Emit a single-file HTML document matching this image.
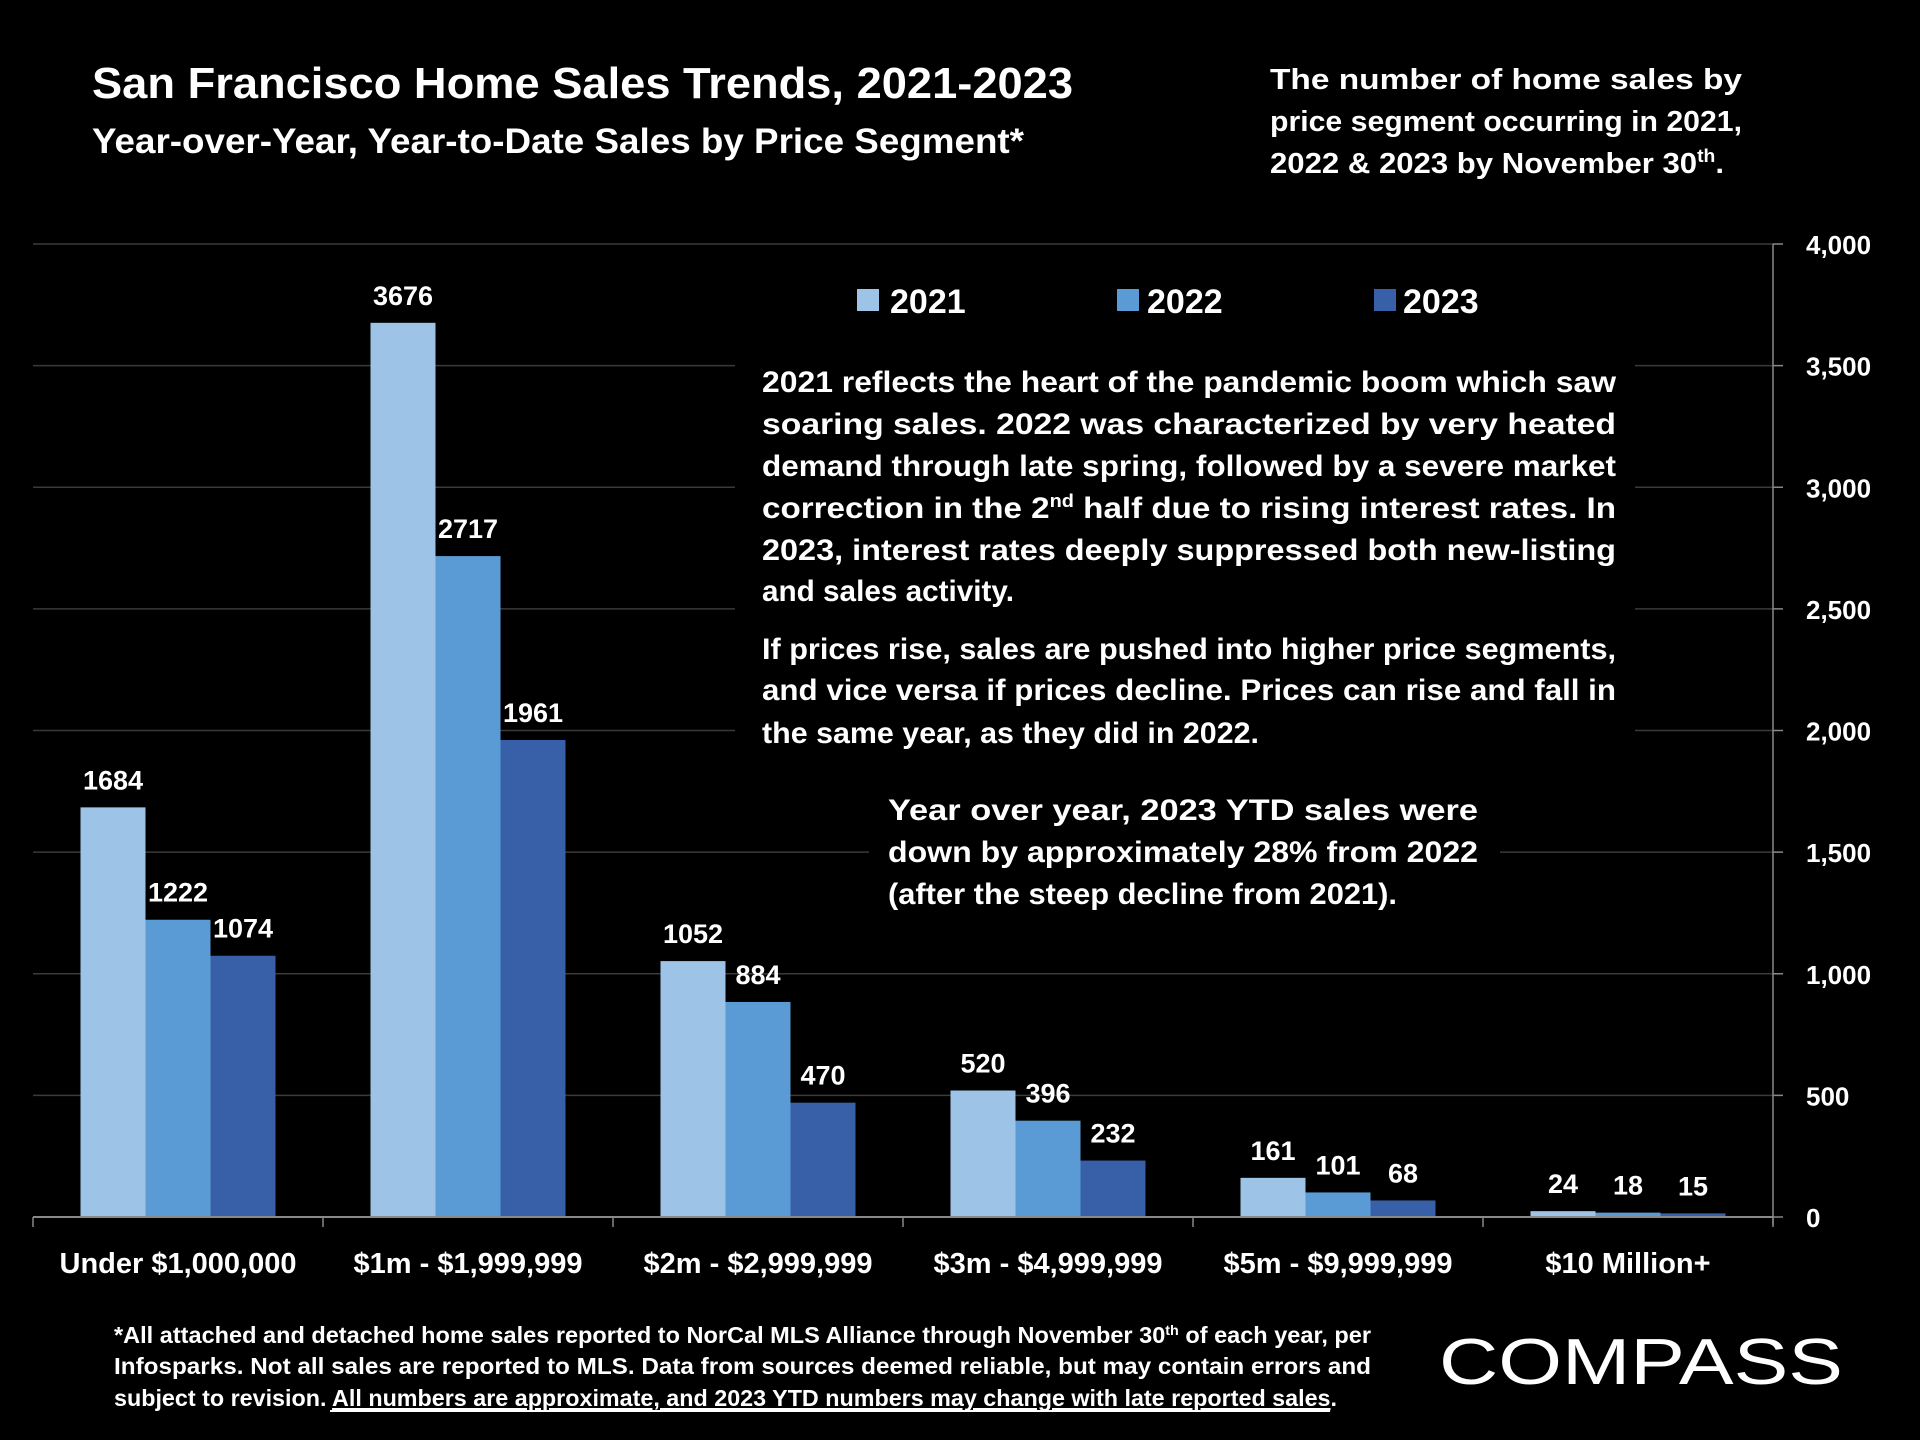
<!DOCTYPE html>
<html><head><meta charset="utf-8"><style>
html,body{margin:0;padding:0;background:#000;}
svg{display:block;}
text{font-family:"Liberation Sans",sans-serif;fill:#fff;font-weight:bold;}
</style></head><body>
<svg id="chart" width="1920" height="1440" viewBox="0 0 1920 1440" xmlns="http://www.w3.org/2000/svg">
<rect width="1920" height="1440" fill="#000"/>
<text x="92" y="98" font-size="44" textLength="981" lengthAdjust="spacingAndGlyphs">San Francisco Home Sales Trends, 2021-2023</text>
<text x="92" y="153" font-size="35" textLength="932" lengthAdjust="spacingAndGlyphs">Year-over-Year, Year-to-Date Sales by Price Segment*</text>
<g font-size="29">
<text x="1270" y="89" textLength="472" lengthAdjust="spacingAndGlyphs">The number of home sales by</text>
<text x="1270" y="131" textLength="472" lengthAdjust="spacingAndGlyphs">price segment occurring in 2021,</text>
<text x="1270" y="173" textLength="454" lengthAdjust="spacingAndGlyphs">2022 &amp; 2023 by November 30<tspan font-size="18" dy="-11">th</tspan><tspan dy="11">.</tspan></text>
</g>
<g id="grid"></g>
<g id="bars"></g>
<g id="axes"></g>
<rect x="735" y="355" width="900" height="398" fill="#000"/>
<rect x="869" y="790" width="631" height="122" fill="#000"/>
<g font-size="34">
<rect x="857" y="289" width="22" height="22" fill="#9dc3e6"/><text x="890" y="313">2021</text>
<rect x="1117" y="289" width="22" height="22" fill="#5b9bd5"/><text x="1147" y="313">2022</text>
<rect x="1374" y="289" width="22" height="22" fill="#3760a8"/><text x="1403" y="313">2023</text>
</g>
<g font-size="30">
<text x="762" y="392" textLength="854" lengthAdjust="spacingAndGlyphs">2021 reflects the heart of the pandemic boom which saw</text>
<text x="762" y="434" textLength="854" lengthAdjust="spacingAndGlyphs">soaring    sales.   2022   was   characterized   by   very   heated</text>
<text x="762" y="476" textLength="854" lengthAdjust="spacingAndGlyphs">demand through late spring, followed by a severe market</text>
<text x="762" y="518" textLength="854" lengthAdjust="spacingAndGlyphs">correction in the 2<tspan font-size="18" dy="-11">nd</tspan><tspan dy="11"> half due to rising interest rates. In</tspan></text>
<text x="762" y="560" textLength="854" lengthAdjust="spacingAndGlyphs">2023,  interest  rates  deeply  suppressed  both  new-listing</text>
<text x="762" y="601" textLength="252" lengthAdjust="spacingAndGlyphs">and sales activity.</text>
<text x="762" y="659" textLength="854" lengthAdjust="spacingAndGlyphs">If prices rise, sales are pushed into higher price segments,</text>
<text x="762" y="700" textLength="854" lengthAdjust="spacingAndGlyphs">and vice versa if prices decline. Prices can rise and fall in</text>
<text x="762" y="743" textLength="497" lengthAdjust="spacingAndGlyphs">the same year, as they did in 2022.</text>
<text x="888" y="820" textLength="590" lengthAdjust="spacingAndGlyphs">Year   over   year,   2023   YTD   sales   were</text>
<text x="888" y="862" textLength="590" lengthAdjust="spacingAndGlyphs">down by approximately 28% from 2022</text>
<text x="888" y="904" textLength="509" lengthAdjust="spacingAndGlyphs">(after the steep decline from 2021).</text>
</g>
<g font-size="23">
<text x="114" y="1343" textLength="1257" lengthAdjust="spacingAndGlyphs">*All attached and detached home sales reported to NorCal MLS Alliance through November 30<tspan font-size="14" dy="-8">th</tspan><tspan dy="8"> of each year, per</tspan></text>
<text x="114" y="1374" textLength="1257" lengthAdjust="spacingAndGlyphs">Infosparks. Not all sales are reported to MLS. Data from sources deemed reliable, but may contain errors and</text>
<text x="114" y="1406" textLength="1223" lengthAdjust="spacingAndGlyphs">subject to revision. <tspan text-decoration="underline">All numbers are approximate, and 2023 YTD numbers may change with late reported sales</tspan>.</text>
<line x1="330" y1="1411" x2="1330" y2="1411" stroke="#fff" stroke-width="2"/>
</g>
<text x="1439" y="1384" font-size="65" font-weight="normal" style="font-weight:normal" textLength="404" lengthAdjust="spacingAndGlyphs">COMPASS</text>
</svg>
<script>
const categories = ["Under $1,000,000","$1m - $1,999,999","$2m - $2,999,999","$3m - $4,999,999","$5m - $9,999,999","$10 Million+"];
const series2021 = [1684,3676,1052,520,161,24];
const series2022 = [1222,2717,884,396,101,18];
const series2023 = [1074,1961,470,232,68,15];
const yTicks = [0,500,1000,1500,2000,2500,3000,3500,4000];
const yTickLabels = ["0","500","1,000","1,500","2,000","2,500","3,000","3,500","4,000"];

const NS="http://www.w3.org/2000/svg";
const plotL=33, plotR=1773, plotT=244, plotB=1217, yMax=4000;
const y = v => plotB - (v/yMax)*(plotB-plotT);
const groupW=(plotR-plotL)/categories.length;
const barW=65;
const xBar=(ci,si)=>plotL+groupW*ci+groupW/2-1.5*barW+si*barW;
function mk(tag,attrs,parent){const e=document.createElementNS(NS,tag);for(const k in attrs)e.setAttribute(k,attrs[k]);parent.appendChild(e);return e;}
const grid=document.getElementById('grid'), bars=document.getElementById('bars'), axes=document.getElementById('axes');
yTicks.forEach((t,i)=>{
  if(t>0){const g=mk('line',{x1:plotL,x2:plotR,y1:y(t),y2:y(t),stroke:'#3a3a3a','stroke-width':1.5},grid);
  
  }
  const tk=mk('line',{x1:plotR,x2:plotR+10,y1:y(t),y2:y(t),stroke:'#888','stroke-width':1.5},axes);
  
  
  const lb=mk('text',{x:1806,y:y(t)+10,'font-size':26},axes);
  lb.textContent=yTickLabels[i];
  
  
});
const ax=mk('line',{x1:plotR,x2:plotR,y1:plotT,y2:plotB+8,stroke:'#888','stroke-width':1.5},axes);


const bx=mk('line',{x1:plotL,x2:plotR,y1:plotB,y2:plotB,stroke:'#888','stroke-width':2},axes);


for(let i=0;i<=categories.length;i++){
  const t=mk('line',{x1:plotL+groupW*i,x2:plotL+groupW*i,y1:plotB,y2:plotB+10,stroke:'#888','stroke-width':1.5},axes);
  
  
}
const all=[series2021,series2022,series2023], cols=['#9dc3e6','#5b9bd5','#3760a8'], yrs=['2021','2022','2023'];
categories.forEach((c,ci)=>{
  const cl=mk('text',{x:plotL+groupW*ci+groupW/2,y:1273,'font-size':29,'text-anchor':'middle'},axes);
  cl.textContent=c;
  
  
  all.forEach((s,si)=>{
    const v=s[ci];
    const r=mk('rect',{x:xBar(ci,si),y:y(v),width:barW,height:plotB-y(v),fill:cols[si]},bars);
    
    
    const t=mk('text',{x:xBar(ci,si)+barW/2,y:y(v)-18,'font-size':27,'text-anchor':'middle'},bars);
    t.textContent=v;
    
    
  });
});
</script>
</body></html>
